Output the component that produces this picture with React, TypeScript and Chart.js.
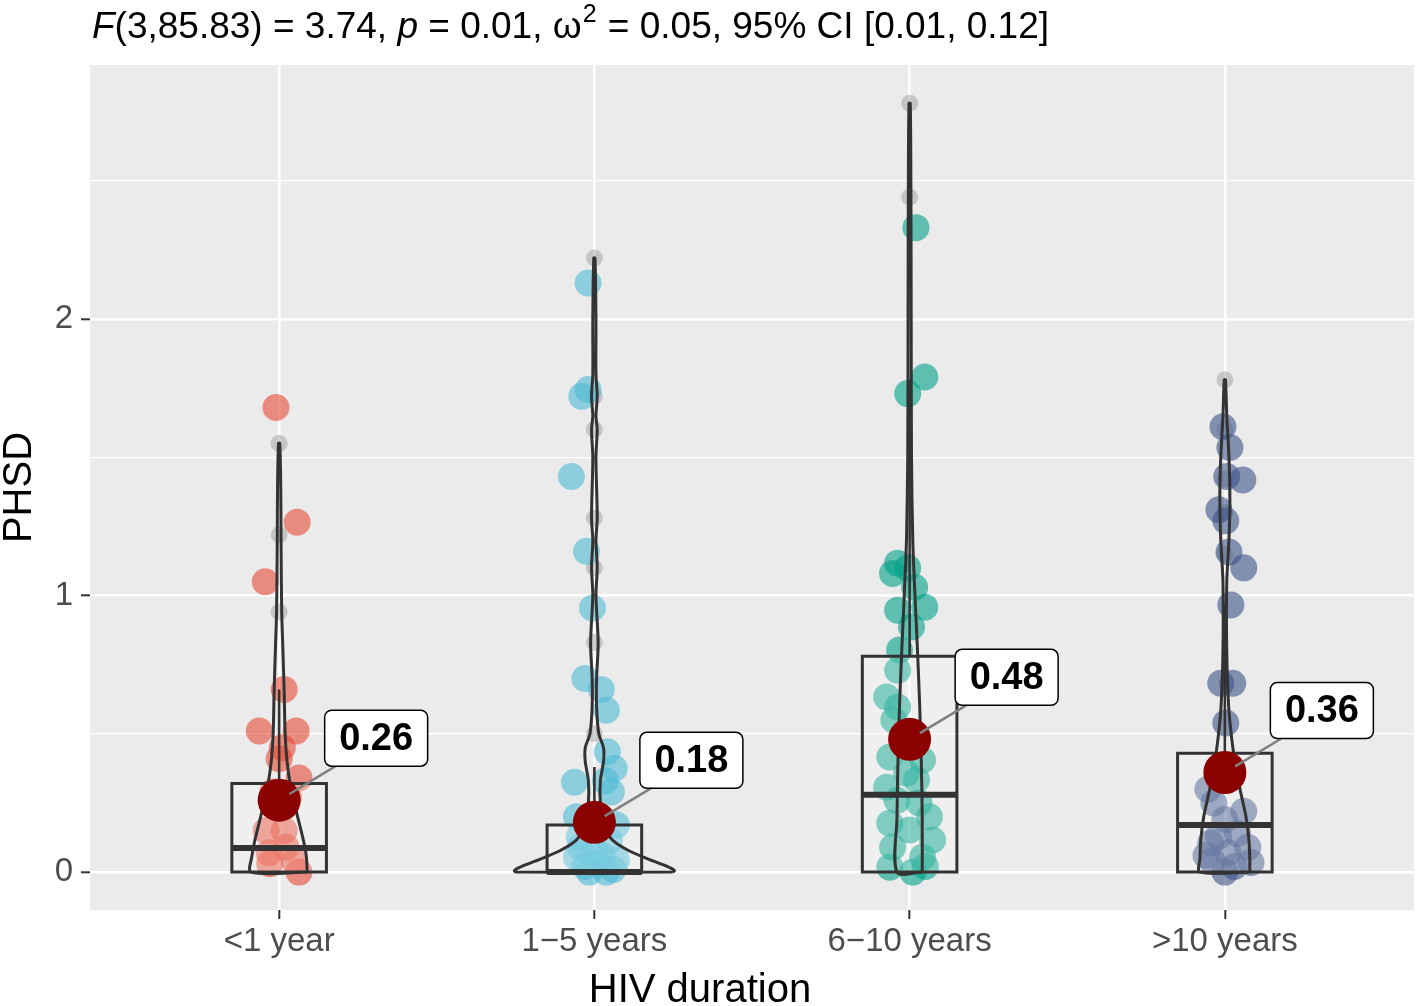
import React, { useEffect, useRef } from "react";
import { Chart, registerables } from "chart.js";

Chart.register(...registerables);

// ---------- data ----------
const CATEGORIES = ["<1 year", "1−5 years", "6−10 years", ">10 years"];
const Y_TICKS = [0, 0.5, 1, 1.5, 2, 2.5];
const X_TITLE = "HIV duration";
const Y_TITLE = "PHSD";

const MEANS = [0.26, 0.18, 0.48, 0.36];
const MEAN_LABELS = ["0.26", "0.18", "0.48", "0.36"];

const Q1 = [0, 0, 0, 0];
const MEDIANS = [0.087, 0, 0.28, 0.17];
const Q3 = [0.32, 0.17, 0.78, 0.43];
const WHISKER_HI = [0.66, 0.38, 1.78, 0.97];

const OUTLIERS_1 = [1.55, 1.22, 0.94];
const OUTLIERS_2 = [2.22, 1.72, 1.6, 1.28, 1.1, 0.83, 0.5];
const OUTLIERS_3 = [2.78, 2.44];
const OUTLIERS_4 = [1.78, 1.6, 1.42, 1.3, 1.15];

// jittered observations: values and horizontal jitter (category units)
const VALUES_1 = [1.68, 1.265, 1.05, 0.66, 0.51, 0.51, 0.45, 0.41, 0.34, 0.29, 0.27, 0.15, 0.15, 0.09, 0.07, 0.04, 0.0, 0.03];
const JITTER_1 = [-0.01, 0.057, -0.044, 0.016, -0.063, 0.054, 0.01, 0.0, 0.063, -0.02, 0.03, -0.041, 0.016, 0.022, -0.032, 0.048, 0.063, -0.03];

const VALUES_2 = [2.13, 1.745, 1.72, 1.43, 1.16, 0.955, 0.7, 0.66, 0.585, 0.435, 0.375, 0.325, 0.33, 0.29, 0.2, 0.17, 0.127, 0.116, 0.09, 0.08, 0.06, 0.054, 0.043, 0.03, 0.02, 0.01, 0.0, 0.0];
const JITTER_2 = [-0.02, -0.02, -0.04, -0.073, -0.025, -0.006, -0.03, 0.022, 0.038, 0.041, 0.063, -0.063, 0.035, 0.054, -0.057, 0.07, -0.048, 0.048, -0.045, 0.0, 0.025, -0.057, 0.07, 0.01, -0.03, 0.06, -0.016, 0.038];

const VALUES_3 = [2.33, 1.79, 1.73, 1.117, 1.08, 1.1, 1.03, 0.958, 0.947, 0.886, 0.803, 0.73, 0.633, 0.597, 0.55, 0.495, 0.416, 0.405, 0.358, 0.333, 0.307, 0.26, 0.25, 0.2, 0.177, 0.152, 0.116, 0.09, 0.054, 0.02, 0.018, 0.0];
const JITTER_3 = [0.02, 0.048, -0.006, -0.038, -0.054, -0.006, 0.016, 0.048, -0.038, 0.006, -0.032, -0.038, -0.073, -0.038, -0.05, 0.016, -0.063, 0.041, -0.01, 0.022, -0.073, -0.04, 0.03, 0.063, -0.063, 0.0, 0.073, -0.054, 0.041, 0.05, -0.063, 0.01];

const VALUES_4 = [1.61, 1.535, 1.43, 1.418, 1.31, 1.27, 1.157, 1.1, 0.966, 0.683, 0.683, 0.539, 0.3, 0.25, 0.22, 0.19, 0.14, 0.13, 0.105, 0.09, 0.07, 0.06, 0.04, 0.035, 0.02, 0.0];
const JITTER_4 = [-0.006, 0.016, 0.006, 0.057, -0.019, 0.003, 0.013, 0.06, 0.019, -0.013, 0.025, 0.003, -0.054, -0.035, 0.06, 0.0, 0.04, -0.02, -0.045, 0.073, 0.01, -0.06, -0.04, 0.083, 0.03, 0.0];

// violin outlines: value levels and half-widths (category units)
const VIOLIN_LEVELS_1 = [0, 0.06, 0.12, 0.18, 0.25, 0.32, 0.4, 0.5, 0.65, 0.8, 0.95, 1.2, 1.4, 1.55];
const VIOLIN_WIDTH_1 = [0.089, 0.086, 0.076, 0.063, 0.048, 0.035, 0.025, 0.019, 0.016, 0.012, 0.008, 0.006, 0.005, 0.002];

const VIOLIN_LEVELS_2 = [0, 0.005, 0.015, 0.03, 0.05, 0.08, 0.12, 0.18, 0.25, 0.33, 0.4, 0.45, 0.5, 0.6, 0.7, 0.83, 1.0, 1.1, 1.2, 1.28, 1.5, 1.6, 1.65, 1.72, 1.8, 2.0, 2.22];
const VIOLIN_WIDTH_2 = [0.248, 0.254, 0.241, 0.21, 0.165, 0.105, 0.054, 0.029, 0.019, 0.019, 0.029, 0.029, 0.014, 0.007, 0.007, 0.012, 0.005, 0.009, 0.005, 0.009, 0.005, 0.009, 0.005, 0.009, 0.005, 0.005, 0.002];

const VIOLIN_LEVELS_3 = [0, 0.2, 0.4, 0.6, 0.8, 1.0, 1.2, 1.5, 2.0, 2.5, 2.78];
const VIOLIN_WIDTH_3 = [0.04, 0.04, 0.037, 0.032, 0.025, 0.017, 0.01, 0.006, 0.005, 0.004, 0.002];

const VIOLIN_LEVELS_4 = [0, 0.05, 0.12, 0.2, 0.3, 0.4, 0.48, 0.6, 0.8, 1.05, 1.2, 1.35, 1.5, 1.65, 1.78];
const VIOLIN_WIDTH_4 = [0.079, 0.079, 0.076, 0.067, 0.048, 0.032, 0.022, 0.012, 0.006, 0.006, 0.013, 0.016, 0.013, 0.006, 0.002];

const TITLE_PARTS = [
  { text: "F", kind: "italic" },
  { text: "(3,85.83) = 3.74, ", kind: "normal" },
  { text: "p", kind: "italic" },
  { text: " = 0.01, ω", kind: "normal" },
  { text: "2", kind: "sup" },
  { text: " = 0.05, 95% CI [0.01, 0.12]", kind: "normal" },
];

// ---------- styles ----------
const FONT = "'Liberation Sans', Arial, Helvetica, sans-serif";
const POINT_COLORS = [
  "rgba(230,75,53,0.6)",
  "rgba(77,187,213,0.6)",
  "rgba(0,160,135,0.6)",
  "rgba(60,84,136,0.6)",
];
const LINE_COLOR = "#333333";
const BOX_HALF = 0.15;

const GROUP_VALUES = [VALUES_1, VALUES_2, VALUES_3, VALUES_4];
const GROUP_JITTER = [JITTER_1, JITTER_2, JITTER_3, JITTER_4];
const GROUP_OUTLIERS = [OUTLIERS_1, OUTLIERS_2, OUTLIERS_3, OUTLIERS_4];
const GROUP_VLEVELS = [VIOLIN_LEVELS_1, VIOLIN_LEVELS_2, VIOLIN_LEVELS_3, VIOLIN_LEVELS_4];
const GROUP_VWIDTH = [VIOLIN_WIDTH_1, VIOLIN_WIDTH_2, VIOLIN_WIDTH_3, VIOLIN_WIDTH_4];

function buildDatasets() {
  const ds: any[] = [];
  CATEGORIES.forEach((_, i) => {
    const c = i + 1;
    ds.push({
      type: "scatter",
      data: GROUP_OUTLIERS[i].map((v) => ({ x: c, y: v })),
      pointRadius: 8.5,
      pointBackgroundColor: "rgba(150,150,150,0.45)",
      pointBorderWidth: 0,
      order: 7,
    });
    ds.push({
      type: "scatter",
      data: GROUP_VALUES[i].map((v, k) => ({ x: c + GROUP_JITTER[i][k], y: v })),
      pointRadius: 13.5,
      pointBackgroundColor: POINT_COLORS[i],
      pointBorderWidth: 0,
      order: 6,
    });
    ds.push({
      type: "scatter",
      showLine: true,
      data: [
        { x: c - BOX_HALF, y: Q1[i] },
        { x: c + BOX_HALF, y: Q1[i] },
        { x: c + BOX_HALF, y: Q3[i] },
        { x: c - BOX_HALF, y: Q3[i] },
        { x: c - BOX_HALF, y: Q1[i] },
        { x: c + BOX_HALF, y: Q1[i] },
      ],
      borderColor: LINE_COLOR,
      borderWidth: 3,
      backgroundColor: "rgba(255,255,255,0.22)",
      fill: "shape",
      pointRadius: 0,
      tension: 0,
      order: 5,
    });
    ds.push({
      type: "scatter",
      showLine: true,
      data: [
        { x: c, y: Q3[i] },
        { x: c, y: WHISKER_HI[i] },
      ],
      borderColor: LINE_COLOR,
      borderWidth: 2.6,
      pointRadius: 0,
      order: 4,
    });
    ds.push({
      type: "scatter",
      showLine: true,
      data: [
        { x: c - BOX_HALF, y: MEDIANS[i] },
        { x: c + BOX_HALF, y: MEDIANS[i] },
      ],
      borderColor: LINE_COLOR,
      borderWidth: 6,
      pointRadius: 0,
      order: 4,
    });
    const lv = GROUP_VLEVELS[i];
    const wd = GROUP_VWIDTH[i];
    const right = lv.map((v, k) => ({ x: c + wd[k], y: v }));
    const left = lv.map((v, k) => ({ x: c - wd[k], y: v })).reverse();
    ds.push({
      type: "scatter",
      showLine: true,
      data: [...right, ...left, right[0]],
      borderColor: LINE_COLOR,
      borderWidth: 3,
      pointRadius: 0,
      tension: 0.3,
      fill: false,
      order: 3,
    });
    ds.push({
      type: "scatter",
      data: [{ x: c, y: MEANS[i] }],
      pointRadius: 21.5,
      pointBackgroundColor: "#8B0000",
      pointBorderWidth: 0,
      order: 1,
    });
  });
  return ds;
}

const bgPlugin = {
  id: "panelBg",
  beforeDraw(chart: any) {
    const { ctx, chartArea: a, width, height } = chart;
    ctx.save();
    ctx.fillStyle = "#FFFFFF";
    ctx.fillRect(0, 0, width, height);
    ctx.fillStyle = "#EBEBEB";
    ctx.fillRect(a.left, a.top, a.right - a.left, a.bottom - a.top);
    ctx.restore();
  },
};

function roundRect(ctx: CanvasRenderingContext2D, x: number, y: number, w: number, h: number, r: number) {
  ctx.beginPath();
  ctx.moveTo(x + r, y);
  ctx.lineTo(x + w - r, y);
  ctx.arcTo(x + w, y, x + w, y + r, r);
  ctx.lineTo(x + w, y + h - r);
  ctx.arcTo(x + w, y + h, x + w - r, y + h, r);
  ctx.lineTo(x + r, y + h);
  ctx.arcTo(x, y + h, x, y + h - r, r);
  ctx.lineTo(x, y + r);
  ctx.arcTo(x, y, x + r, y, r);
  ctx.closePath();
}

const labelPlugin = {
  id: "meanLabels",
  afterDatasetsDraw(chart: any) {
    const { ctx, scales } = chart;
    const xs = scales.x;
    const ys = scales.y;
    ctx.save();
    MEANS.forEach((m, i) => {
      const px = xs.getPixelForValue(i + 1);
      const py = ys.getPixelForValue(m);
      const w = 103;
      const h = 56;
      const cx = px + 97;
      const cy = py - 62;
      const bx = cx - w / 2;
      const by = cy - h / 2;
      const ex = bx + 11;
      const ey = by + h;
      const ang = Math.atan2(ey - py, ex - px);
      ctx.strokeStyle = "#808080";
      ctx.lineWidth = 2.5;
      ctx.beginPath();
      ctx.moveTo(px + Math.cos(ang) * 12, py + Math.sin(ang) * 12);
      ctx.lineTo(ex, ey);
      ctx.stroke();
      roundRect(ctx, bx, by, w, h, 7);
      ctx.fillStyle = "#FFFFFF";
      ctx.fill();
      ctx.strokeStyle = "#000000";
      ctx.lineWidth = 1.5;
      ctx.stroke();
      ctx.fillStyle = "#000000";
      ctx.font = `bold 38px ${FONT}`;
      ctx.textAlign = "center";
      ctx.textBaseline = "middle";
      ctx.fillText(MEAN_LABELS[i], cx, cy + 1);
    });
    ctx.restore();
  },
};

const titlePlugin = {
  id: "statTitle",
  afterDraw(chart: any) {
    const { ctx } = chart;
    ctx.save();
    ctx.fillStyle = "#000000";
    ctx.textBaseline = "alphabetic";
    ctx.textAlign = "left";
    let x = 92;
    const base = 38;
    TITLE_PARTS.forEach((p) => {
      if (p.kind === "sup") {
        ctx.font = `25px ${FONT}`;
        ctx.fillText(p.text, x + 1, base - 16);
        x += ctx.measureText(p.text).width + 2;
      } else {
        ctx.font = `${p.kind === "italic" ? "italic " : ""}37px ${FONT}`;
        ctx.fillText(p.text, x, base);
        x += ctx.measureText(p.text).width;
      }
    });
    // x-axis title (offset left of panel centre as in the original figure)
    ctx.font = `40px ${FONT}`;
    ctx.textAlign = "center";
    ctx.textBaseline = "alphabetic";
    ctx.fillText(X_TITLE, 700, 1002);
    ctx.restore();
  },
};

export default function App() {
  const ref = useRef<HTMLCanvasElement | null>(null);
  useEffect(() => {
    document.body.style.margin = "0";
    const canvas = ref.current;
    if (!canvas) return;
    const chart = new Chart(canvas, {
      type: "scatter",
      data: { datasets: buildDatasets() },
      options: {
        responsive: false,
        animation: false,
        events: [],
        layout: { autoPadding: false, padding: { top: 65, right: 2, left: 0, bottom: 0 } },
        plugins: {
          legend: { display: false },
          tooltip: { enabled: false },
          title: { display: false },
        },
        scales: {
          x: {
            type: "linear",
            min: 0.4,
            max: 4.6,
            afterBuildTicks: (s: any) => {
              s.ticks = CATEGORIES.map((_, i) => ({ value: i + 1 }));
            },
            afterFit: (s: any) => {
              s.height = 96;
              s.paddingLeft = 0;
              s.paddingRight = 0;
            },
            ticks: {
              autoSkip: false,
              maxRotation: 0,
              padding: 3,
              color: "#4D4D4D",
              font: { family: FONT, size: 33 },
              callback: (v: any) => CATEGORIES[Math.round(Number(v)) - 1] ?? "",
            },
            grid: {
              color: "#FFFFFF",
              lineWidth: 2.6,
              tickColor: "#333333",
              tickLength: 9,
              tickWidth: 2,
            },
            border: { display: false },
            title: { display: false },
          },
          y: {
            type: "linear",
            min: -0.137,
            max: 2.918,
            afterBuildTicks: (s: any) => {
              s.ticks = Y_TICKS.map((v) => ({ value: v }));
            },
            afterFit: (s: any) => {
              s.width = 90;
              s.paddingTop = 0;
              s.paddingBottom = 0;
            },
            ticks: {
              padding: 8,
              color: "#4D4D4D",
              font: { family: FONT, size: 33 },
              callback: (v: any) => (Number(v) % 1 === 0 ? String(v) : ""),
            },
            grid: {
              color: "#FFFFFF",
              lineWidth: (c: any) => (c.tick && c.tick.value % 1 === 0 ? 2.6 : 1.3),
              tickColor: (c: any) => (c.tick && c.tick.value % 1 === 0 ? "#333333" : "rgba(0,0,0,0)"),
              tickLength: 9,
              tickWidth: 2,
            },
            border: { display: false },
            title: {
              display: true,
              text: Y_TITLE,
              color: "#000000",
              font: { family: FONT, size: 40, lineHeight: 1.0 },
              padding: 0,
            },
          },
        },
      } as any,
      plugins: [bgPlugin, labelPlugin, titlePlugin],
    });
    return () => chart.destroy();
  }, []);
  return (
    <canvas
      ref={ref}
      width={1416}
      height={1006}
      style={{ display: "block", width: 1416, height: 1006 }}
    />
  );
}
